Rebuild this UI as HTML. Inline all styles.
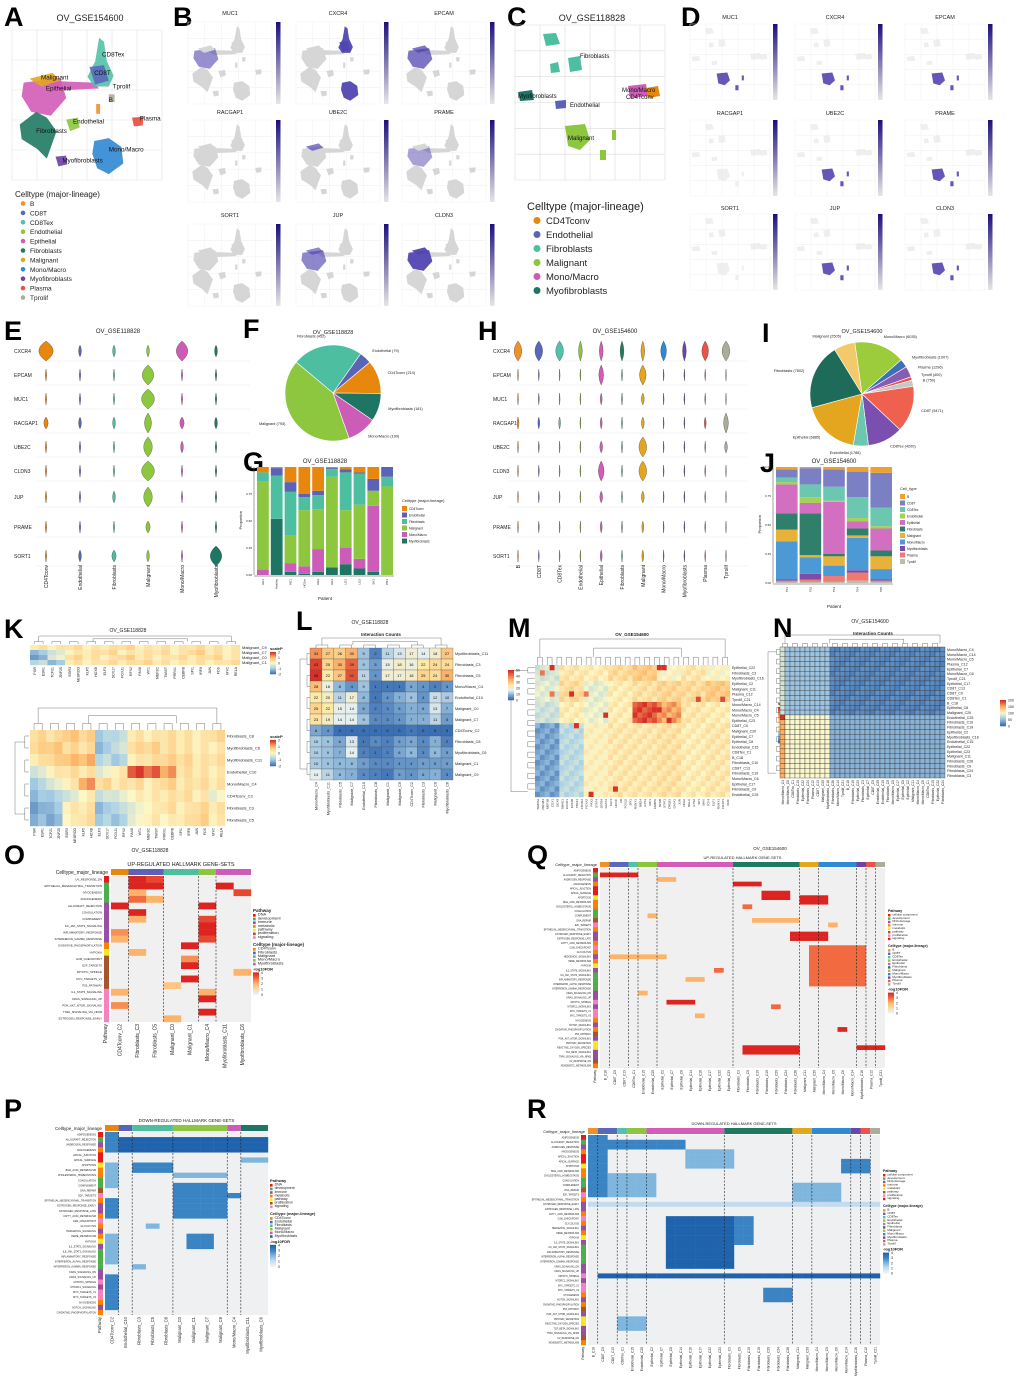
<!DOCTYPE html>
<html><head><meta charset="utf-8"><style>
html,body{margin:0;padding:0;background:#fff;}
svg{display:block;}
</style></head><body>
<svg id="fig" width="1020" height="1377" viewBox="0 0 1020 1377" xmlns="http://www.w3.org/2000/svg"></svg>
<script>
// ---------- DATA ----------
const pieFLabels=['Fibroblasts','Endothelial','CD4Tconv','Myofibroblasts','Mono/Macro','Malignant'];
const pieFValues=[452,79,214,181,190,793];
const pieILabels=['Mono/Macro','Myofibroblasts','Plasma','Tprolif','B','CD8T','CD8Tex','Endothelial','Epithelial','Fibroblasts','Malignant'];
const pieIValues=[6035,1007,1296,400,750,5471,4200,1788,6885,7802,2505];
const gPatients=['EK1','Healthy','HG1','HG1m','HG2','HG3','LG1','LG2','SK1','PR1'];
const gTypes=['Myofibroblasts','Mono/Macro','Malignant','Fibroblasts','Endothelial','CD4Tconv'];
const gMyo=[0,0.52,0.03,0.01,0.03,0.07,0.10,0.06,0.03,0];
const gMono=[0.05,0,0.08,0.07,0.21,0,0.15,0.09,0.61,0];
const gMal=[0.82,0,0.26,0.52,0.37,0.84,0.35,0.50,0.14,0.82];
const gFib=[0.08,0.40,0.40,0.12,0.13,0.07,0.35,0.29,0,0.09];
const gEndo=[0,0.07,0.09,0.03,0.04,0.01,0.03,0.01,0.11,0.09];
const gCD4=[0.05,0.01,0.14,0.25,0.22,0.01,0.02,0.05,0.11,0];
const jPatients=['T01','T02','T03','T04','T05'];
const jTprolif=[0.01,0.01,0.01,0.02,0.01];
const jPlasma=[0.01,0.02,0.05,0.07,0.01];
const jMyo=[0.01,0.05,0,0.02,0.01];
const jMono=[0.33,0.14,0.09,0.28,0.09];
const jMal=[0.10,0.02,0.08,0.02,0.11];
const jFib=[0.14,0.36,0.02,0.06,0.05];
const jEpi=[0.25,0.09,0.45,0.06,0.19];
const jEndo=[0.02,0.05,0.01,0.03,0.02];
const jCD8Tex=[0.04,0.11,0.12,0.18,0.16];
const jCD8T=[0.07,0.14,0.15,0.22,0.30];
const jB=[0.02,0.01,0.02,0.04,0.05];
const lRows=['Myofibroblasts_C11','Fibroblasts_C3','Fibroblasts_C5','Mono/Macro_C4','Endothelial_C10','Malignant_C0','Malignant_C7','CD4Tconv_C2','Fibroblasts_C8','Myofibroblasts_C6','Malignant_C1','Malignant_C9'];
const lCols=['Mono/Macro_C4','Myofibroblasts_C11','Fibroblasts_C5','Malignant_C7','Endothelial_C10','Fibroblasts_C8','Malignant_C1','Malignant_C9','CD4Tconv_C2','Fibroblasts_C3','Malignant_C0','Myofibroblasts_C6'];
const lCounts=[
[34,27,26,30,9,2,11,13,17,14,18,27],
[43,25,30,39,9,5,15,18,16,22,24,24],
[45,22,27,41,11,4,17,17,18,25,24,30],
[28,16,8,4,9,1,1,1,6,4,2,4],
[22,20,11,17,8,1,4,7,9,4,12,10],
[25,22,15,14,6,2,3,5,7,6,13,7],
[23,19,14,14,9,3,3,4,7,7,11,5],
[6,4,0,0,0,0,0,0,1,0,0,0],
[10,9,6,13,1,3,2,5,6,3,7,2],
[10,9,7,14,2,1,2,6,8,3,8,5],
[10,9,8,8,5,3,3,4,4,5,5,5],
[14,11,8,7,3,2,1,5,4,6,7,3]];
const eGenes=['CXCR4','EPCAM','MUC1','RACGAP1','UBE2C','CLDN3','JUP','PRAME','SORT1'];
const eTypes=['CD4Tconv','Endothelial','Fibroblasts','Malignant','Mono/Macro','Myofibroblasts'];
const eWidths=[[1,0.2,0.2,0.2,0.8,0.2],[0.1,0.1,0.1,0.8,0.1,0.1],[0.1,0.1,0.1,0.9,0.1,0.1],[0.3,0.2,0.2,0.5,0.3,0.2],[0.1,0.1,0.1,0.6,0.2,0.1],[0.1,0.1,0.1,0.9,0.1,0.1],[0.1,0.1,0.2,0.6,0.1,0.1],[0.1,0.1,0.1,0.3,0.1,0.1],[0.1,0.2,0.3,0.2,0.1,0.8]];
const hTypes=['B','CD8T','CD8Tex','Endothelial','Epithelial','Fibroblasts','Malignant','Mono/Macro','Myofibroblasts','Plasma','Tprolif'];
const hWidths=[[0.8,0.8,0.8,0.4,0.4,0.4,0.4,0.6,0.4,0.7,0.8],[0.1,0.1,0.1,0.1,0.5,0.1,0.7,0.1,0.1,0.1,0.1],[0.1,0.1,0.1,0.1,0.2,0.1,0.3,0.1,0.1,0.1,0.1],[0.2,0.2,0.2,0.1,0.2,0.1,0.3,0.1,0.1,0.2,0.5],[0.1,0.1,0.1,0.1,0.3,0.1,0.8,0.1,0.1,0.1,0.3],[0.1,0.1,0.1,0.1,0.6,0.1,0.8,0.1,0.1,0.1,0.1],[0.1,0.1,0.1,0.1,0.3,0.1,0.3,0.1,0.1,0.1,0.1],[0.1,0.1,0.1,0.1,0.2,0.1,0.2,0.1,0.1,0.1,0.1],[0.1,0.1,0.1,0.1,0.2,0.1,0.2,0.1,0.1,0.1,0.1]];
const oRows=['UV_RESPONSE_DN','EPITHELIAL_MESENCHYMAL_TRANSITION','MYOGENESIS','ANGIOGENESIS','ALLOGRAFT_REJECTION','COAGULATION','COMPLEMENT','IL6_JAK_STAT3_SIGNALING','INFLAMMATORY_RESPONSE','INTERFERON_GAMMA_RESPONSE','OXIDATIVE_PHOSPHORYLATION','HYPOXIA','G2M_CHECKPOINT','E2F_TARGETS','MITOTIC_SPINDLE','MYC_TARGETS_V1','P53_PATHWAY','IL2_STAT5_SIGNALING','KRAS_SIGNALING_UP','PI3K_AKT_MTOR_SIGNALING','TNFA_SIGNALING_VIA_NFKB','ESTROGEN_RESPONSE_EARLY'];
const oPath=[0,1,1,1,2,2,2,2,2,2,3,4,5,5,5,5,5,6,6,6,6,6];
const oCols=['CD4Tconv_C2','Fibroblasts_C3','Fibroblasts_C5','Malignant_C0','Malignant_C1','Mono/Macro_C4','Myofibroblasts_C11','Myofibroblasts_C6'];
const oCells=[[0,1,4],[0,2,3.5],[1,1,4],[1,2,4],[1,6,4],[2,1,2],[2,7,3.5],[3,1,3],[3,2,2],[4,0,4],[4,5,4],[5,1,4],[6,1,2],[6,5,3.5],[7,5,4],[8,0,2.5],[8,5,4],[9,0,2],[9,5,3.5],[10,4,4],[11,1,2],[12,4,2.5],[13,4,4],[14,7,2],[15,4,4],[16,3,1.5],[17,0,2],[17,5,2],[18,5,4],[19,0,2.5],[20,5,4],[21,3,2]];
const hallmarks=['ADIPOGENESIS','ALLOGRAFT_REJECTION','ANDROGEN_RESPONSE','ANGIOGENESIS','APICAL_JUNCTION','APICAL_SURFACE','APOPTOSIS','BILE_ACID_METABOLISM','CHOLESTEROL_HOMEOSTASIS','COAGULATION','COMPLEMENT','DNA_REPAIR','E2F_TARGETS','EPITHELIAL_MESENCHYMAL_TRANSITION','ESTROGEN_RESPONSE_EARLY','ESTROGEN_RESPONSE_LATE','FATTY_ACID_METABOLISM','G2M_CHECKPOINT','GLYCOLYSIS','HEDGEHOG_SIGNALING','HEME_METABOLISM','HYPOXIA','IL2_STAT5_SIGNALING','IL6_JAK_STAT3_SIGNALING','INFLAMMATORY_RESPONSE','INTERFERON_ALPHA_RESPONSE','INTERFERON_GAMMA_RESPONSE','KRAS_SIGNALING_DN','KRAS_SIGNALING_UP','MITOTIC_SPINDLE','MTORC1_SIGNALING','MYC_TARGETS_V1','MYC_TARGETS_V2','MYOGENESIS','NOTCH_SIGNALING','OXIDATIVE_PHOSPHORYLATION','P53_PATHWAY','PI3K_AKT_MTOR_SIGNALING','PROTEIN_SECRETION','REACTIVE_OXYGEN_SPECIES','TGF_BETA_SIGNALING','TNFA_SIGNALING_VIA_NFKB','UV_RESPONSE_DN','XENOBIOTIC_METABOLISM'];
const hallPath=[0,1,2,3,0,0,4,3,3,1,1,5,6,3,2,2,3,6,3,2,3,4,2,1,1,1,1,2,2,6,2,6,6,3,2,3,5,2,4,4,2,2,5,3];
const qCols=['B_C18','CD8T_C0','CD8T_C13','CD8Tex_C1','Endothelial_C15','Endothelial_C25','Epithelial_C2','Epithelial_C7','Epithelial_C8','Epithelial_C14','Epithelial_C16','Epithelial_C17','Epithelial_C22','Epithelial_C23','Fibroblasts_C3','Fibroblasts_C9','Fibroblasts_C10','Fibroblasts_C19','Fibroblasts_C20','Fibroblasts_C24','Fibroblasts_C26','Malignant_C11','Malignant_C20','Mono/Macro_C4','Mono/Macro_C5','Mono/Macro_C6','Mono/Macro_C14','Myofibroblasts_C16','Plasma_C12','Tprolif_C21'];
const qGroups=[1,2,1,2,8,7,2,4,1,1,1];
const qBlocks=[[1,1,0,3,4],[3,3,14,16,4],[5,6,17,19,4],[6,7,21,23,4],[8,8,15,15,3],[11,11,16,20,2],[14,15,20,23,4],[17,25,22,27,3],[19,19,1,6,2],[29,29,7,9,4],[39,40,15,20,4],[39,39,27,29,4],[27,27,4,4,2],[32,32,10,10,2],[22,22,12,12,3],[12,12,24,24,2],[35,35,25,25,4],[10,10,5,5,2],[30,30,18,18,3],[2,2,6,7,2],[24,24,9,10,2]];
const rBlocks=[[0,12,0,1,3],[1,2,2,9,3],[3,6,10,14,2],[8,12,2,6,2],[17,27,8,14,4],[17,22,15,16,3],[29,29,1,29,4],[32,34,18,20,3],[10,13,21,25,2],[5,7,26,28,3],[38,40,3,5,2],[14,14,0,29,1]];
const pCols=['CD4Tconv_C2','Endothelial_C10','Fibroblasts_C3','Fibroblasts_C5','Fibroblasts_C8','Malignant_C0','Malignant_C1','Malignant_C7','Malignant_C9','Mono/Macro_C4','Myofibroblasts_C11','Myofibroblasts_C6'];
const pGroups=[1,1,3,4,1,2];
const pBlocks=[[0,3,0,0,3],[6,10,0,0,2],[13,16,0,0,3],[20,25,0,0,2],[28,34,0,0,3],[1,3,1,11,4],[6,7,2,4,3],[8,8,5,8,2],[10,16,5,8,3],[12,12,9,9,3],[5,5,10,11,2],[18,18,3,3,2],[20,22,6,7,3],[26,26,2,2,2]];
const mRowVals=[[-0.5,0.3,0.2,0.5,0.8,0.0,0.3,0.0],[-0.3,0.5,-0.3,0.2,0.4,0.6,0.5,0.8],[-0.6,0.2,-0.2,0.2,1.8,1.2,0.3,0.2],[-1.5,-0.8,0.1,0.3,0.3,0.4,0.2,0.3]];
const mSpots=[[0,3,2],[0,25,2],[0,26,2],[5,7,2],[5,10,1.5],[5,3,1.5],[6,38,1.8],[6,33,1.8],[8,25,2],[9,14,2],[10,27,2],[11,8,2],[23,16,2],[24,11,2],[1,1,1.5]];
const nTop=[80,50,20];
const nBottom=[150,100,40];
const kTop=[[0.3,0.2,0.4,0.2,0.3,0.5,0.2,0.3,0.2,0.4,0.3,0.2],[-1.2,-0.5,0.2,0.3,0.5,0.2,0.3,0.4,0.2,0.6,0.3,0.2],[-1.5,-0.3,0.5,0.3,0.2,0.6,0.3,0.2,0.4,0.3,0.5,0.2],[-0.8,-1.2,0.3,0.2,0.4,0.3,0.5,0.3,0.2,0.3,0.2,0.4]];
const kBot=[[0.5,0.4,0.8,0.6,-1.0,-0.8,0.3,0.2,0.4,0.3,0.2,0.5],[0.6,0.8,0.5,0.4,-1.2,-0.6,0.5,0.6,0.4,0.3,0.2,0.2],[0.3,0.6,0.9,1.0,-0.8,-1.0,0.2,0.4,0.6,0.5,0.3,0.4],[-0.5,0.2,0.4,0.3,-0.3,0.2,1.8,1.6,1.2,0.4,0.3,0.2],[-1.0,-0.4,0.2,1.2,0.5,0.3,0.4,0.2,0.6,0.3,0.4,0.3],[-1.2,-1.0,-0.5,0.1,-0.6,-0.4,0.1,0.2,0.3,0.4,0.2,-0.2],[-1.5,-1.2,0.2,0.3,-1.2,-0.8,-0.3,0.1,0.4,0.2,0.5,0.3],[-1.3,-1.4,0.1,0.4,-1.0,-1.1,-0.2,0.2,0.1,0.3,0.6,0.2]];

// ---------- HELPERS ----------
const NS='http://www.w3.org/2000/svg';
const svg=document.getElementById('fig');
const FF='Liberation Sans, DejaVu Sans, sans-serif';
function el(tag,attrs,name,parent){
  const e=document.createElementNS(NS,tag);
  for(const k in attrs)e.setAttribute(k,attrs[k]);
  
  
  (parent||svg).appendChild(e);return e;}
function tx(x,y,s,size,name,opt,parent){
  const t=el('text',Object.assign({x:x,y:y,'font-size':size,'font-family':FF,fill:'#222'},opt||{}),name,parent);
  t.textContent=s;return t;}
function vtx(x,y,s,size,name){return tx(x,y,s,size,name,{'text-anchor':'end',transform:'rotate(-90 '+x+' '+y+')'});}
function letter(x,y,s){tx(x,y,s,27,'panel-label-'+s.toLowerCase(),{'font-weight':'bold',fill:'#000'});}
function lerp(a,b,t){return Math.round(a+(b-a)*t);}
function hex(c){return [parseInt(c.slice(1,3),16),parseInt(c.slice(3,5),16),parseInt(c.slice(5,7),16)];}
function ramp(stops,v){
  if(v<=stops[0][0])return stops[0][1];
  for(let i=1;i<stops.length;i++){if(v<=stops[i][0]){const t=(v-stops[i-1][0])/(stops[i][0]-stops[i-1][0]);const a=hex(stops[i-1][1]),b=hex(stops[i][1]);return 'rgb('+lerp(a[0],b[0],t)+','+lerp(a[1],b[1],t)+','+lerp(a[2],b[2],t)+')';}}
  return stops[stops.length-1][1];}
const divStops=[[-2,'#4575b4'],[-1,'#abd2e6'],[0,'#fdf7c5'],[1,'#fdbf71'],[2,'#d73027']];
const cntStops=[[0,'#3b6fb3'],[8,'#8fb8da'],[14,'#e6eff0'],[22,'#fde9a6'],[32,'#f9a35e'],[45,'#d73027']];
const nStops=[[0,'#3b6fb3'],[50,'#9cc3e0'],[100,'#fbf7cc'],[150,'#fdae61'],[200,'#d73027']];
const upStops=[[0,'#f0f0f0'],[1,'#fdd8a4'],[2,'#fdb46a'],[3,'#f26a3f'],[4,'#dc2420']];
const dnStops=[[0,'#eef0f2'],[1,'#c4dbef'],[2,'#7fb6de'],[3,'#3b84c4'],[4,'#1f63ad']];
const tcol={'B':'#f0902a','CD8T':'#5a68bc','CD8Tex':'#52c1a8','Endothelial':'#8cc63f','Epithelial':'#d35cb8','Fibroblasts':'#1f7a62','Malignant':'#e4a51f','Mono/Macro':'#2f8ad3','Myofibroblasts':'#6d45a6','Plasma':'#e8534a','Tprolif':'#a9ae9a'};
const c2={'CD4Tconv':'#e8870e','Endothelial':'#5a63b5','Fibroblasts':'#4dbfa0','Malignant':'#8dc63f','Mono/Macro':'#cc5cb8','Myofibroblasts':'#1f7563'};
const jcol={'B':'#f0a030','CD8T':'#7b7fc4','CD8Tex':'#6cc7b0','Endothelial':'#a6d057','Epithelial':'#d36fc0','Fibroblasts':'#2f7f6a','Malignant':'#e8b23a','Mono/Macro':'#4b9ad6','Myofibroblasts':'#7d4ea8','Plasma':'#ee7a72','Tprolif':'#b9bfae'};
const pathCols=['#e41a1c','#4daf4a','#984ea3','#ff7f00','#f5e626','#a65628','#f781bf'];

// ---------- UMAP shapes ----------
const aShapes=[
 {id:'bridge',c:'#d35cb8',d:'M40,80 L95,82 L100,88 L60,90 Z'},
 {id:'CD8Tex',c:'#52c1a8',d:'M100,36 L105,40 L108,60 L115,75 L110,86 L95,86 L88,76 L96,60 Z'},
 {id:'CD8T',c:'#5a68bc',d:'M90,66 L105,64 L110,80 L96,84 Z'},
 {id:'Epithelial',c:'#d35cb8',d:'M22,82 L60,77 L66,98 L50,116 L30,112 L20,96 Z'},
 {id:'Malignant',c:'#e4a51f',d:'M28,78 L52,72 L60,80 L40,86 Z'},
 {id:'Fibroblasts',c:'#1f7a62',d:'M18,125 L35,112 L46,118 L56,132 L46,160 L36,150 L20,140 Z'},
 {id:'Endothelial',c:'#8cc63f',d:'M66,120 L78,118 L80,128 L70,132 Z'},
 {id:'Mono/Macro',c:'#2f87d1',d:'M95,142 L110,139 L123,148 L125,165 L110,176 L98,170 L93,155 Z'},
 {id:'Myofibroblasts',c:'#6b3fa0',d:'M55,158 L66,157 L67,166 L58,168 Z'},
 {id:'Plasma',c:'#e94b3c',d:'M134,118 L146,117 L145,126 L136,127 Z'},
 {id:'Tprolif',c:'#a9ae9a',d:'M110,94 L116,94 L116,102 L110,102 Z'},
 {id:'B',c:'#f0902a',d:'M97,104 L101,104 L101,114 L97,114 Z'}];
function umapGroup(x0,y0,w,h,name){
  return el('g',{transform:'translate('+x0+','+y0+') scale('+(w/155)+','+(h/154)+') translate(-10,-28)'},name);}
function grid(x0,y0,w,h,nx,ny,name,col){
  for(let i=0;i<=nx;i++)el('line',{x1:x0+w*i/nx,y1:y0,x2:x0+w*i/nx,y2:y0+h,stroke:col||'#e3e3e3','stroke-width':0.6},name+'-vgrid');
  for(let i=0;i<=ny;i++)el('line',{x1:x0,y1:y0+h*i/ny,x2:x0+w,y2:y0+h*i/ny,stroke:col||'#e3e3e3','stroke-width':0.6},name+'-hgrid');}

// ---------- PANEL A ----------
letter(4,26,'A');
tx(90,21,'OV_GSE154600',9,'umap-a-title',{'text-anchor':'middle'});
grid(12,30,150,150,6,5,'umap-a');
{const g=umapGroup(12,30,150,150,'umap-a-points');
 aShapes.forEach(s=>{el('path',{d:s.d,fill:s.c,'fill-opacity':0.9},'cluster-'+s.id.toLowerCase(),g);});
 const labs=[['CD8Tex',103,55],['CD8T',95,74],['Malignant',40,79],['Epithelial',45,90],['Tprolif',114,88],['B',110,102],['Endothelial',73,124],['Plasma',142,121],['Fibroblasts',35,134],['Mono/Macro',110,153],['Myofibroblasts',62,164]];
 labs.forEach(l=>tx(l[1],l[2],l[0],6.5,'umap-a-label',{fill:'#111'},g));}
tx(15,197,'Celltype (major-lineage)',8,'legend-a-title');
Object.keys(tcol).forEach((k,i)=>{const y=206+i*9.4;el('circle',{cx:23,cy:y-2.5,r:2.3,fill:tcol[k]},'legend-a-dot');tx(30,y,k,6.5,'legend-a-entry');});

// ---------- FEATURE PLOTS ----------
const bGenes=['MUC1','CXCR4','EPCAM','RACGAP1','UBE2C','PRAME','SORT1','JUP','CLDN3'];
const bHigh=[['Epithelial'],['CD8Tex','CD8T','Mono/Macro'],['Epithelial','Malignant'],[],['Malignant'],['Epithelial'],[],['Epithelial','Malignant'],['Epithelial','Malignant']];
const bHighLvl=[0.45,0.8,0.6,0,0.55,0.35,0.2,0.5,0.8];
const defs=el('defs',{},'defs');
const lg=el('linearGradient',{id:'cbar',x1:0,y1:1,x2:0,y2:0},'colorbar-gradient',defs);
el('stop',{offset:0,'stop-color':'#e6e6e6'},'stop',lg);el('stop',{offset:1,'stop-color':'#1c0f7d'},'stop',lg);
const cShapes=[
 {id:'Fibroblasts',c:'#4dbfa0',d:'M543,34 L556,33 L560,44 L546,46 Z M568,58 L580,56 L582,70 L570,72 Z M550,64 L558,62 L560,72 L551,73 Z'},
 {id:'Myofibroblasts',c:'#1f7563',d:'M518,92 L532,90 L534,100 L520,101 Z'},
 {id:'Endothelial',c:'#5a63b5',d:'M555,101 L566,100 L566,108 L556,109 Z'},
 {id:'Mono/Macro',c:'#cc5cb8',d:'M628,86 L646,84 L648,96 L630,98 Z'},
 {id:'CD4Tconv',c:'#e8870e',d:'M646,88 L658,86 L660,96 L648,98 Z'},
 {id:'Malignant',c:'#8dc63f',d:'M565,126 L585,124 L590,140 L580,150 L568,146 Z M600,150 L606,150 L606,160 L600,160 Z M612,130 L616,130 L616,140 L612,140 Z'}];
function featurePanel(titleYs,rowYs,rowH,colX,plotW,gap,sparse,prefix){
  for(let r=0;r<3;r++)for(let c=0;c<3;c++){
    const i=r*3+c,x=colX[c],y=rowYs[r];
    tx(x+plotW/2,titleYs[r],bGenes[i],5.5,prefix+'-title-'+bGenes[i].toLowerCase(),{'text-anchor':'middle'});
    grid(x,y,plotW,rowH,5,5,prefix+'-'+bGenes[i].toLowerCase(),'#f2f2f2');
    if(!sparse){const g=umapGroup(x,y,plotW,rowH,prefix+'-umap-'+bGenes[i].toLowerCase());
      aShapes.forEach(s=>{const hi=bHigh[i].indexOf(s.id)>=0;el('path',{d:s.d,fill:hi?'#5146b0':'#d6d6d6','fill-opacity':hi?bHighLvl[i]+0.15:1},'cell-density',g);});}
    else{const g=el('g',{transform:'translate('+x+','+y+') scale('+(plotW/150)+','+(rowH/155)+') translate(-515,-25)'},prefix+'-umap-'+bGenes[i].toLowerCase());
      cShapes.forEach(s=>{const hi=s.id==='Malignant'&&bHighLvl[i]>0.3;el('path',{d:s.d,fill:hi?'#4a3aa8':'#e2e2e2','fill-opacity':hi?0.85:0.55},'cell-density',g);});}
    el('rect',{x:x+plotW+gap,y:y,width:4.5,height:rowH,fill:'url(#cbar)'},prefix+'-colorbar');
  }}
letter(173,26,'B');
featurePanel([15,114,217],[22,120,224],82,[188,296,402],84,4,false,'feature-b');
letter(507,26,'C');
tx(592,21,'OV_GSE118828',9,'umap-c-title',{'text-anchor':'middle'});
grid(515,25,150,155,6,6,'umap-c','#dcdcdc');
cShapes.forEach(s=>el('path',{d:s.d,fill:s.c},'cluster-c-'+s.id.toLowerCase()));
[['Fibroblasts',580,58],['Myofibroblasts',518,98],['Endothelial',570,107],['Mono/Macro',622,92],['CD4Tconv',626,99],['Malignant',568,140]].forEach(l=>tx(l[1],l[2],l[0],6,'umap-c-label',{fill:'#111'}));
tx(527,210,'Celltype (major-lineage)',11,'legend-c-title');
Object.keys(c2).forEach((k,i)=>{const y=224+i*14;el('circle',{cx:537,cy:y-3.5,r:3.5,fill:c2[k]},'legend-c-dot');tx(546,y,k,9.5,'legend-c-entry');});
letter(681,26,'D');
featurePanel([19,115,210],[24,120,214],76,[690,795,905],80,3,true,'feature-d');

// ---------- VIOLINS ----------
const geneY=[351,375,399,423,447,471,497,527,556];
function violins(x0,step,types,widths,cols,maxW,title,tx0,prefix,labelX){
  tx(tx0,333,title,6,prefix+'-title',{'text-anchor':'middle'});
  eGenes.forEach((g,gi)=>{const y=geneY[gi];
    tx(labelX,y+2,g,5,prefix+'-gene-label');
    el('line',{x1:x0-10,y1:y+10,x2:x0+step*types.length,y2:y+10,stroke:'#e8e8e8','stroke-width':0.5},prefix+'-row-line');
    types.forEach((t,ti)=>{const cx=x0+ti*step,w=widths[gi][ti]*maxW,h=w>maxW*0.3?20:12;
      el('path',{d:'M'+cx+','+(y-h/2)+' Q'+(cx+w*1.6)+','+y+' '+cx+','+(y+h/2)+' Q'+(cx-w*1.6)+','+y+' '+cx+','+(y-h/2)+' Z',fill:cols[t],stroke:'#333','stroke-width':0.3},prefix+'-violin-'+g.toLowerCase());});});
  types.forEach((t,ti)=>{const x=x0+ti*step;vtx(x+2,565,t,5,prefix+'-x-label');});}
letter(4,340,'E');
violins(46,34,eTypes,eWidths,c2,9,'OV_GSE118828',118,'violin-e',14);
letter(478,340,'H');
violins(518,20.8,hTypes,hWidths,tcol,6,'OV_GSE154600',615,'violin-h',493);

// ---------- PIES ----------
function pie(cx,cy,r,labels,vals,cols,start,name){
  const tot=vals.reduce((a,b)=>a+b,0);let a=start*Math.PI/180;
  vals.forEach((v,i)=>{const a2=a+v/tot*2*Math.PI;
    const x1=cx+r*Math.sin(a),y1=cy-r*Math.cos(a),x2=cx+r*Math.sin(a2),y2=cy-r*Math.cos(a2);
    el('path',{d:'M'+cx+','+cy+' L'+x1+','+y1+' A'+r+','+r+' 0 '+((a2-a)>Math.PI?1:0)+' 1 '+x2+','+y2+' Z',fill:cols[labels[i]],stroke:'#fff','stroke-width':0.6},name+'-slice-'+labels[i].toLowerCase());
    const am=(a+a2)/2,lx=cx+(r+10)*Math.sin(am),ly=cy-(r+8)*Math.cos(am);
    tx(lx,ly,labels[i]+' ('+v+')',3.8,name+'-slice-label',{'text-anchor':Math.sin(am)>0?'start':'end'});
    a=a2;});}
letter(243,338,'F');
tx(333,334,'OV_GSE118828',5.5,'pie-f-title',{'text-anchor':'middle'});
pie(333,393,48,pieFLabels,pieFValues,c2,-50,'pie-f');
letter(762,342,'I');
tx(862,333,'OV_GSE154600',5.5,'pie-i-title',{'text-anchor':'middle'});
const icol={'Mono/Macro':'#9ccc3c','Myofibroblasts':'#3f6fb5','Plasma':'#8a5bb5','Tprolif':'#e8534a','B':'#c7c7c7','CD8T':'#f0604f','CD8Tex':'#7a4fb0','Endothelial':'#6cc7b0','Epithelial':'#e4a51f','Fibroblasts':'#1f6b5a','Malignant':'#f3c96a'};
pie(862,394,52,pieILabels,pieIValues,icol,-8,'pie-i');

// ---------- STACKED BARS ----------
function stacked(x0,y0,w,h,patients,series,names,cols,title,name,legendX,legendY,legendTitle){
  tx(x0+w/2,y0-4,title,6,name+'-title',{'text-anchor':'middle'});
  const bw=w/patients.length,ys=v=>y0+h-v*h;
  patients.forEach((p,pi)=>{let acc=0;
    series.forEach((s,si)=>{const v=s[pi];if(v>0){el('rect',{x:x0+pi*bw+1,y:ys(acc+v),width:bw-2,height:v*h,fill:cols[names[si]]},name+'-bar-'+names[si].toLowerCase());}acc+=v;});
    vtx(x0+pi*bw+bw/2+1,y0+h+4,p,3,name+'-x-label');});
  el('line',{x1:x0-2,y1:y0,x2:x0-2,y2:y0+h,stroke:'#444','stroke-width':0.5},name+'-y-axis');
  el('line',{x1:x0-2,y1:y0+h+1,x2:x0+w,y2:y0+h+1,stroke:'#444','stroke-width':0.5},name+'-x-axis');
  ['0.00','0.25','0.50','0.75','1.00'].forEach((t,i)=>tx(x0-4,ys(i*0.25)+1,t,3,name+'-y-tick',{'text-anchor':'end'}));
  vtx(x0-14,y0+h/2-10,'Proportion',4,name+'-y-title');
  tx(x0+w/2,y0+h+25,'Patient',4.5,name+'-x-title',{'text-anchor':'middle'});
  tx(legendX,legendY,legendTitle,4,name+'-legend-title');
  names.slice().reverse().forEach((n,i)=>{const y=legendY+4+i*6.5;el('rect',{x:legendX,y:y,width:5,height:5,fill:cols[n]},name+'-legend-key');tx(legendX+7,y+4,n,3.2,name+'-legend-entry');});}
letter(243,471,'G');
stacked(256,467,138,108,gPatients,[gMyo,gMono,gMal,gFib,gEndo,gCD4],gTypes,c2,'OV_GSE118828','bars-g',402,502,'Celltype (major-lineage)');
letter(760,472,'J');
stacked(775,467,118,116,jPatients,[jTprolif,jPlasma,jMyo,jMono,jMal,jFib,jEpi,jEndo,jCD8Tex,jCD8T,jB],['Tprolif','Plasma','Myofibroblasts','Mono/Macro','Malignant','Fibroblasts','Epithelial','Endothelial','CD8Tex','CD8T','B'],jcol,'OV_GSE154600','bars-j',900,490,'Cell_type');

// ---------- DENDROGRAMS ----------
function dendroTop(x0,y,w,n,h,name){
  const cw=w/n;
  for(let i=1;i<n;i+=2){const a=x0+(i-1)*cw+cw/2,b=x0+i*cw+cw/2,hh=h*0.3;
    el('path',{d:'M'+a+','+y+' V'+(y-hh)+' H'+b+' V'+y,fill:'none',stroke:'#555','stroke-width':0.4},name);}
  el('path',{d:'M'+(x0+cw)+','+(y-h*0.3)+' V'+(y-h)+' H'+(x0+w-cw)+' V'+(y-h*0.3),fill:'none',stroke:'#555','stroke-width':0.4},name);
  el('path',{d:'M'+(x0+w*0.3)+','+(y-h*0.3)+' V'+(y-h*0.65)+' H'+(x0+w*0.75)+' V'+(y-h*0.3),fill:'none',stroke:'#555','stroke-width':0.4},name);}
function dendroLeft(x,y0,h,n,w,name){
  const rh=h/n;
  for(let i=1;i<n;i+=2){const a=y0+(i-1)*rh+rh/2,b=y0+i*rh+rh/2;
    el('path',{d:'M'+x+','+a+' H'+(x-w*0.3)+' V'+b+' H'+x,fill:'none',stroke:'#555','stroke-width':0.4},name);}
  el('path',{d:'M'+(x-w*0.3)+','+(y0+rh)+' H'+(x-w)+' V'+(y0+h-rh)+' H'+(x-w*0.3),fill:'none',stroke:'#555','stroke-width':0.4},name);}
function scaleLegend(x,y,h,stops,labels,title,name){
  tx(x,y-2,title,4,name+'-title',{'font-weight':'bold'});
  const n=20;for(let i=0;i<n;i++){const v=stops[stops.length-1][0]-(stops[stops.length-1][0]-stops[0][0])*i/(n-1);
    el('rect',{x:x,y:y+h*i/n,width:6,height:h/n+0.3,fill:ramp(stops,v)},name+'-swatch');}
  labels.forEach((l,i)=>tx(x+8,y+h*i/(labels.length-1)+1.5,l,3.5,name+'-label'));}

// ---------- K ----------
letter(4,638,'K');
tx(128,632,'OV_GSE118828',5,'heatmap-k-title',{'text-anchor':'middle'});
const kNamesTop=['Malignant_C9','Malignant_C7','Malignant_C0','Malignant_C1'];
const kNamesBot=['Fibroblasts_C8','Myofibroblasts_C6','Myofibroblasts_C11','Endothelial_C10','Mono/Macro_C4','CD4Tconv_C2','Fibroblasts_C3','Fibroblasts_C5'];
const kTF=['PGR','ESR1','TCF21','ZNF25','EGR3','NEUROD','KLF5','HOXB','ELF3','SOX17','FOXJ1','RFX2','PAX8','WT1','MEF2C','TWIST','PRRX1','CEBPB','SPI1','IRF8','JUN','FOS','MYC','RELA'];
function kHeat(x0,y0,w,h,vals,names,name){
  const nc=24,cw=w/nc,rh=h/vals.length;
  vals.forEach((row,ri)=>{for(let c=0;c<nc;c++){const v=row[Math.floor(c/2)]+(c%2?0.15:-0.1);
    el('rect',{x:x0+c*cw,y:y0+ri*rh,width:cw+0.2,height:rh+0.2,fill:ramp(divStops,v)},name+'-cell');}
    tx(x0+w+2,y0+ri*rh+rh/2+1.5,names[ri],4,name+'-row-label');});
  kTF.forEach((t,c)=>vtx(x0+c*cw+cw/2+1.5,y0+h+2,t,3.5,name+'-col-label'));}
dendroTop(30,644,210,24,8,'heatmap-k-top-dendrogram');
kHeat(30,645,210,20,kTop,kNamesTop,'heatmap-k-top');
dendroTop(30,730,195,24,22,'heatmap-k-bottom-dendrogram');
dendroLeft(29,730,96,8,14,'heatmap-k-row-dendrogram');
kHeat(30,730,195,96,kBot,kNamesBot,'heatmap-k-bottom');
scaleLegend(270,652,22,divStops,['2','1','0','-1','-2'],'scaleP','legend-k-top');
scaleLegend(270,740,26,divStops,['2','1','0','-1','-2'],'scaleP','legend-k-bottom');

// ---------- L ----------
letter(296,630,'L');
tx(370,624,'OV_GSE118828',5,'heatmap-l-title',{'text-anchor':'middle'});
tx(381,636,'Interaction Counts',4.5,'heatmap-l-subtitle',{'text-anchor':'middle','font-weight':'bold'});
{const x0=310,y0=648,cw=143/12,rh=132/12;
 dendroTop(x0,y0,143,12,10,'heatmap-l-col-dendrogram');
 dendroLeft(x0,y0,132,12,10,'heatmap-l-row-dendrogram');
 lCounts.forEach((row,ri)=>{row.forEach((v,ci)=>{
   el('rect',{x:x0+ci*cw,y:y0+ri*rh,width:cw,height:rh,fill:ramp(cntStops,v),stroke:'#555','stroke-width':0.3},'heatmap-l-cell');
   tx(x0+ci*cw+cw/2,y0+ri*rh+rh/2+1.5,String(v),4,'heatmap-l-count',{'text-anchor':'middle',fill:'#111'});});
   tx(x0+143+2,y0+ri*rh+rh/2+1.5,lRows[ri],3.8,'heatmap-l-row-label');});
 lCols.forEach((c,ci)=>vtx(x0+ci*cw+cw/2+1.5,y0+134,c,3.8,'heatmap-l-col-label'));}

// ---------- M ----------
letter(508,637,'M');
tx(632,636,'OV_GSE154600',4.5,'heatmap-m-title',{'text-anchor':'middle','font-weight':'bold'});
const mNames=['Epithelial_C22','Fibroblasts_C3','Myofibroblasts_C16','Epithelial_C2','Malignant_C11','Plasma_C12','Tprolif_C21','Mono/Macro_C14','Mono/Macro_C4','Mono/Macro_C5','Epithelial_C23','CD8T_C0','Malignant_C20','Epithelial_C7','Epithelial_C8','Endothelial_C15','CD8Tex_C1','B_C18','Fibroblasts_C10','CD8T_C13','Fibroblasts_C19','Mono/Macro_C6','Epithelial_C17','Fibroblasts_C9','Endothelial_C25'];
const mTF=['SIRPA2','ZNF384','MEF2B','CDX1','SOX9','SMAD1','FOXO1','KAT2B','TBX21','FOXN2','FOXA2','PAX2','STAT4','ZBTB4','GATA1','KLF4','HOXC','AR','FOXJ2','SPI1','RUNX1','BRD4','ETS1','IRF1','CEBPA','NFKB','STAT1','CREB1','GATA3','JUN','NFE2','RELA','ETS2','SP1','MAX','TCF4','ELF1','RUNX3','FOXP1','IKZF'];
{const x0=535,y0=665,w=195,h=132,nc=40,nr=25,cw=w/nc,rh=h/nr;
 dendroTop(x0,y0,w,nc,26,'heatmap-m-col-dendrogram');
 dendroLeft(x0,y0,h,nr,24,'heatmap-m-row-dendrogram');
 for(let r=0;r<nr;r++){const rg=r<3?0:r<7?1:r<11?2:3;
   for(let c=0;c<nc;c++){const v=mRowVals[rg][Math.floor(c/5)]+((r+c)%3-1)*0.2;
     el('rect',{x:x0+c*cw,y:y0+r*rh,width:cw+0.2,height:rh+0.2,fill:ramp(divStops,v)},'heatmap-m-cell');}
   tx(x0+w+2,y0+r*rh+rh/2+1.5,mNames[r],3.6,'heatmap-m-row-label');}
 mSpots.forEach(s=>el('rect',{x:x0+s[1]*cw,y:y0+s[0]*rh,width:cw,height:rh,fill:ramp(divStops,s[2])},'heatmap-m-high-cell'));
 mTF.forEach((t,c)=>vtx(x0+c*cw+cw/2+1.5,y0+h+2,t,3,'heatmap-m-col-label'));}
scaleLegend(508,670,30,cntStops,['50','40','30','20','10','0'],'','legend-m-counts');
scaleLegend(778,707,36,divStops,['2','1','0','-1','-2'],'scaleP','legend-m-scale');

// ---------- N ----------
letter(773,637,'N');
tx(870,623,'OV_GSE154600',5,'heatmap-n-title',{'text-anchor':'middle'});
tx(873,635,'Interaction Counts',4.5,'heatmap-n-subtitle',{'text-anchor':'middle','font-weight':'bold'});
const nNames=['Mono/Macro_C4','Mono/Macro_C14','Mono/Macro_C5','Plasma_C12','Epithelial_C7','Mono/Macro_C6','Tprolif_C21','Epithelial_C17','CD8T_C13','CD8T_C0','CD8Tex_C1','B_C18','Epithelial_C8','Malignant_C20','Endothelial_C25','Fibroblasts_C10','Fibroblasts_C19','Epithelial_C2','Myofibroblasts_C16','Endothelial_C15','Epithelial_C22','Epithelial_C23','Malignant_C11','Fibroblasts_C26','Fibroblasts_C9','Fibroblasts_C24','Fibroblasts_C3'];
{const x0=780,y0=647,w=165,h=131,nc=33,nr=27,cw=w/nc,rh=h/nr;
 dendroTop(x0,y0,w,nc,12,'heatmap-n-col-dendrogram');
 dendroLeft(x0,y0,h,nr,12,'heatmap-n-row-dendrogram');
 for(let r=0;r<nr;r++){const arr=r<14?nTop:nBottom;
   for(let c=0;c<nc;c++){let v=c===0?arr[0]:c<10?arr[1]:arr[2];if(r===14&&c===0)v=200;if(r<14&&c>=10)v-=((c+r)%4)*3;
     el('rect',{x:x0+c*cw,y:y0+r*rh,width:cw,height:rh,fill:ramp(nStops,v),stroke:'#333','stroke-width':0.35},'heatmap-n-cell');}
   tx(x0+w+2,y0+r*rh+rh/2+1.5,nNames[r],3.6,'heatmap-n-row-label');}
 for(let c=0;c<nc;c++)vtx(x0+c*cw+cw/2+1.5,y0+h+2,nNames[(c*5)%27],3.3,'heatmap-n-col-label');}
scaleLegend(1000,700,26,nStops,['200','150','100','50','0'],'','legend-n');

// ---------- HALLMARK HEATMAPS ----------
function hallmark(o){
  const {x0,y0,w,h,rows,paths,cols,groups,groupCols,cells,blocks,stops,name,annotH}=o;
  const nr=rows.length,nc=cols.length,cw=w/nc,rh=h/nr;
  tx(x0+w/2,y0-annotH-4,o.subtitle,o.subSize,name+'-subtitle',{'text-anchor':'middle'});
  tx(x0-3,y0-2,'Celltype_major_lineage',o.annSize,name+'-annotation-label',{'text-anchor':'end'});
  let c=0;groups.forEach((g,gi)=>{el('rect',{x:x0+c*cw,y:y0-annotH-1,width:g*cw,height:annotH,fill:groupCols[gi]},name+'-annotation-bar');c+=g;});
  el('rect',{x:x0,y:y0,width:w,height:h,fill:stops[0][1]},name+'-background');
  const lvl=[];for(let r=0;r<nr;r++){lvl.push(new Array(nc).fill(0));}
  (cells||[]).forEach(cl=>{lvl[cl[0]][cl[1]]=cl[2];});
  (blocks||[]).forEach(b=>{for(let r=b[0];r<=b[1]&&r<nr;r++)for(let cc=b[2];cc<=b[3]&&cc<nc;cc++)lvl[r][cc]=Math.max(lvl[r][cc],b[4]);});
  for(let r=0;r<nr;r++){for(let cc=0;cc<nc;cc++){if(lvl[r][cc]>0)el('rect',{x:x0+cc*cw,y:y0+r*rh,width:cw+0.2,height:rh+0.2,fill:ramp(stops,lvl[r][cc])},name+'-cell');}
    el('rect',{x:x0-7,y:y0+r*rh,width:5,height:rh+0.2,fill:pathCols[paths[r]]},name+'-pathway-cell');
    tx(x0-9,y0+r*rh+rh/2+1,rows[r],o.rowSize,name+'-row-label',{'text-anchor':'end'});}
  c=0;groups.slice(0,-1).forEach(g=>{c+=g;el('line',{x1:x0+c*cw,y1:y0,x2:x0+c*cw,y2:y0+h,stroke:'#222','stroke-width':0.6,'stroke-dasharray':'2,1.5'},name+'-group-divider');});
  vtx(x0-4,y0+h+2,'Pathway',o.colSize,name+'-pathway-label');
  cols.forEach((cn,i)=>vtx(x0+i*cw+cw/2+1.5,y0+h+2,cn,o.colSize,name+'-col-label'));
  const lx=x0+w+o.legOff;let ly=o.legY;
  tx(lx,ly,'Pathway',o.legSize,name+'-legend-pathway-title',{'font-weight':'bold'});
  const pn=o.pathNames;pn.forEach((p,i)=>{el('rect',{x:lx,y:ly+2+i*o.legStep,width:o.legStep-1,height:o.legStep-1,fill:pathCols[i%7]},name+'-legend-key');tx(lx+o.legStep+1,ly+1+(i+1)*o.legStep-1,p,o.legSize-0.5,name+'-legend-entry');});
  ly+=pn.length*o.legStep+8;
  tx(lx,ly,'Celltype (major-lineage)',o.legSize,name+'-legend-celltype-title',{'font-weight':'bold'});
  o.groupNames.forEach((p,i)=>{el('rect',{x:lx,y:ly+2+i*o.legStep,width:o.legStep-1,height:o.legStep-1,fill:groupCols[i%groupCols.length]},name+'-legend-key');tx(lx+o.legStep+1,ly+1+(i+1)*o.legStep-1,p,o.legSize-0.5,name+'-legend-entry');});
  ly+=o.groupNames.length*o.legStep+8;
  scaleLegend(lx,ly,o.legStep*6,stops,['4','3','2','1','0'],'-log10FDR',name+'-legend-fdr');}

const pathNames7=['DNA','development','immune','metabolic','pathway','proliferation','signaling'];
const pathNames9=['cellular component','development','DNA damage','immune','metabolic','pathway','proliferation','signaling'];
letter(4,864,'O');
tx(150,852,'OV_GSE118828',5,'heatmap-o-title',{'text-anchor':'middle'});
hallmark({x0:111,y0:876,w:140,h:146,rows:oRows,paths:oPath,cols:oCols,groups:[1,2,2,1,2],groupCols:[c2['CD4Tconv'],c2['Endothelial'],c2['Fibroblasts'],c2['Malignant'],c2['Mono/Macro']],cells:oCells,stops:upStops,name:'heatmap-o',annotH:6,subtitle:'UP-REGULATED HALLMARK GENE-SETS',subSize:5.5,annSize:5,rowSize:2.8,colSize:5,legOff:2,legY:912,legStep:3.7,legSize:4.5,pathNames:pathNames7,groupNames:['CD4Tconv','Fibroblasts','Malignant','Mono/Macro','Myofibroblasts']});

const qGroupCols=[tcol.B,tcol.CD8T,tcol.CD8Tex,tcol.Endothelial,tcol.Epithelial,tcol.Fibroblasts,tcol.Malignant,tcol['Mono/Macro'],tcol.Myofibroblasts,tcol.Plasma,tcol.Tprolif];
letter(527,864,'Q');
tx(770,850,'OV_GSE154600',4.5,'heatmap-q-title',{'text-anchor':'middle'});
hallmark({x0:600,y0:868,w:285,h:200,rows:hallmarks,paths:hallPath,cols:qCols,groups:qGroups,groupCols:qGroupCols,blocks:qBlocks,stops:upStops,name:'heatmap-q',annotH:5,subtitle:'UP-REGULATED HALLMARK GENE-SETS',subSize:4,annSize:4,rowSize:2.3,colSize:3.3,legOff:3,legY:912,legStep:3.4,legSize:3.5,pathNames:pathNames9,groupNames:Object.keys(tcol)});

letter(4,1118,'P');
hallmark({x0:105,y0:1132,w:163,h:183,rows:hallmarks.slice(0,36),paths:hallPath.slice(0,36),cols:pCols,groups:pGroups,groupCols:[c2.CD4Tconv,c2.Endothelial,c2.Fibroblasts,c2.Malignant,c2['Mono/Macro'],c2.Myofibroblasts],blocks:pBlocks,stops:dnStops,name:'heatmap-p',annotH:6,subtitle:'DOWN-REGULATED HALLMARK GENE-SETS',subSize:4.5,annSize:4.5,rowSize:2.5,colSize:4.2,legOff:2,legY:1182,legStep:3.6,legSize:4,pathNames:pathNames7,groupNames:Object.keys(c2)});

letter(527,1118,'R');
hallmark({x0:588,y0:1135,w:292,h:210,rows:hallmarks,paths:hallPath,cols:qCols,groups:qGroups,groupCols:qGroupCols,blocks:rBlocks,stops:dnStops,name:'heatmap-r',annotH:6,subtitle:'DOWN-REGULATED HALLMARK GENE-SETS',subSize:4,annSize:4,rowSize:2.3,colSize:3.3,legOff:3,legY:1172,legStep:3.4,legSize:3.5,pathNames:pathNames9,groupNames:Object.keys(tcol)});
</script>
</body></html>
